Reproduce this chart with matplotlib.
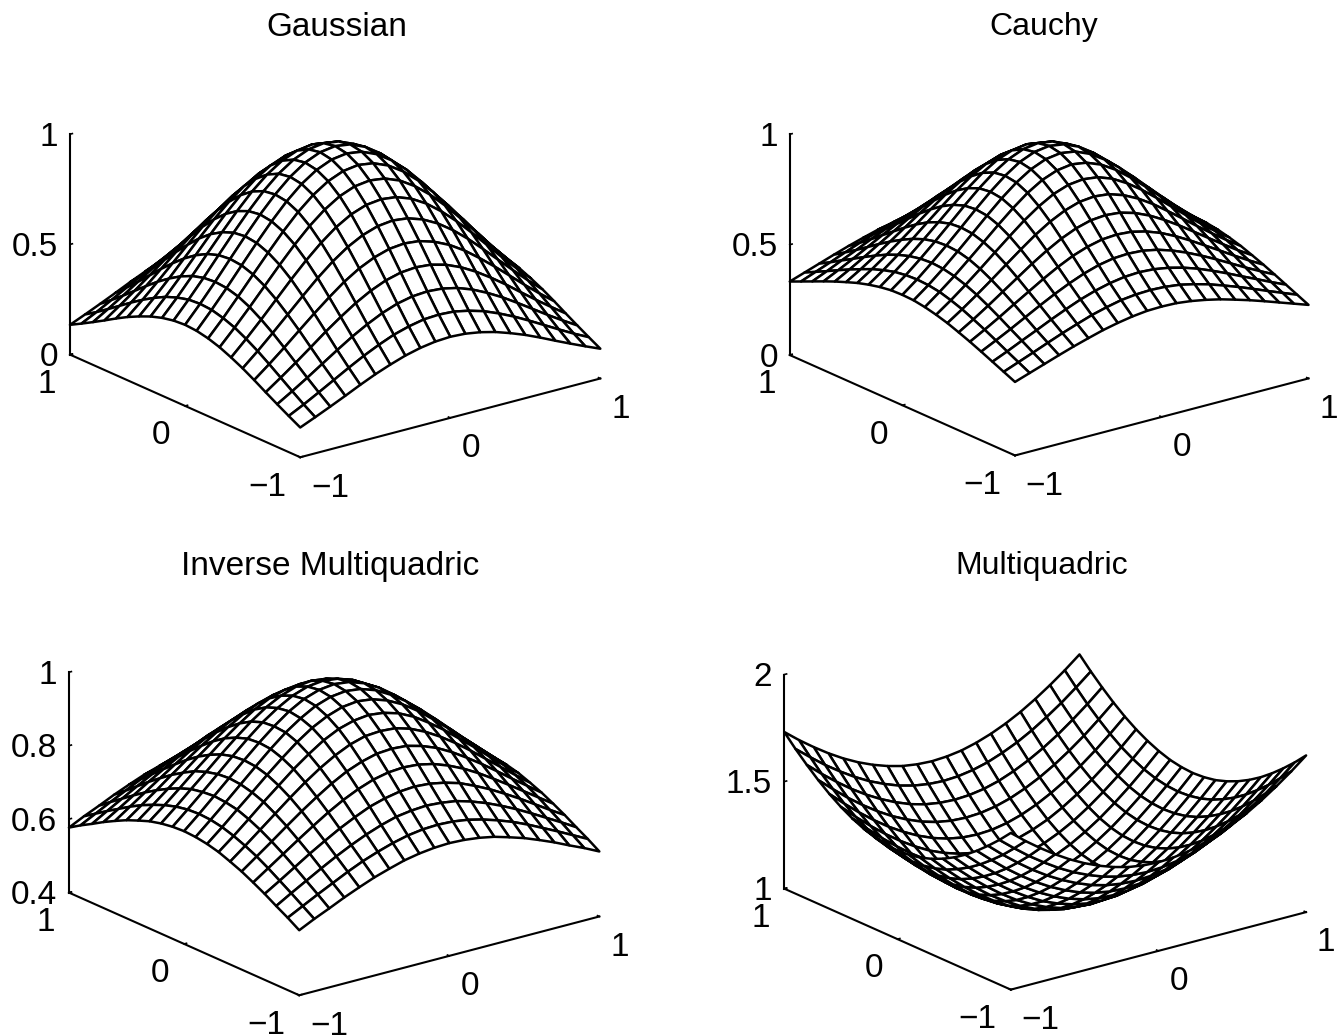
"""Four radial basis function surfaces as white meshes in MATLAB's look."""

import numpy as np
import matplotlib
matplotlib.use("Agg")
import matplotlib.pyplot as plt

plt.rcParams["font.family"] = ["Liberation Sans", "DejaVu Sans"]

# surface heights, one quadrant: grid steps 0..10 from
# the centre to the edge; the surfaces are symmetric in both directions
GAUSSIAN = [
    [1.000, .990, .961, .914, .852, .779, .698, .613, .527, .445, .368],
    [.990, .980, .951, .905, .844, .771, .691, .607, .522, .441, .364],
    [.961, .951, .923, .878, .819, .748, .670, .589, .507, .427, .353],
    [.914, .905, .878, .835, .779, .712, .638, .560, .482, .407, .336],
    [.852, .844, .819, .779, .726, .664, .595, .522, .449, .379, .313],
    [.779, .771, .748, .712, .664, .607, .543, .477, .411, .347, .287],
    [.698, .691, .670, .638, .595, .543, .487, .428, .368, .311, .257],
    [.613, .607, .589, .560, .522, .477, .428, .375, .323, .273, .225],
    [.527, .522, .507, .482, .449, .411, .368, .323, .278, .235, .194],
    [.445, .441, .427, .407, .379, .347, .311, .273, .235, .198, .164],
    [.368, .364, .353, .336, .313, .287, .257, .225, .194, .164, .135],
]
CAUCHY = [
    [1.000, .990, .962, .917, .862, .800, .735, .671, .610, .552, .500],
    [.990, .980, .952, .909, .855, .794, .730, .667, .606, .549, .498],
    [.962, .952, .926, .885, .833, .775, .714, .654, .595, .541, .490],
    [.917, .909, .885, .847, .800, .746, .690, .633, .578, .526, .478],
    [.862, .855, .833, .800, .758, .709, .658, .606, .556, .508, .463],
    [.800, .794, .775, .746, .709, .667, .621, .575, .529, .485, .444],
    [.735, .730, .714, .690, .658, .621, .581, .541, .500, .461, .424],
    [.671, .667, .654, .633, .606, .575, .541, .505, .469, .435, .402],
    [.610, .606, .595, .578, .556, .529, .500, .469, .439, .408, .379],
    [.552, .549, .541, .526, .508, .485, .461, .435, .408, .382, .356],
    [.500, .498, .490, .478, .463, .444, .424, .402, .379, .356, .333],
]
INV_MULTIQUADRIC = [
    [1.000, .995, .981, .958, .928, .894, .857, .819, .781, .743, .707],
    [.995, .990, .976, .953, .925, .891, .854, .816, .778, .741, .705],
    [.981, .976, .962, .941, .913, .880, .845, .808, .772, .735, .700],
    [.958, .953, .941, .921, .894, .864, .830, .796, .760, .725, .692],
    [.928, .925, .913, .894, .870, .842, .811, .778, .745, .712, .680],
    [.894, .891, .880, .864, .842, .816, .788, .758, .727, .697, .667],
    [.857, .854, .845, .830, .811, .788, .762, .735, .707, .679, .651],
    [.819, .816, .808, .796, .778, .758, .735, .711, .685, .659, .634],
    [.781, .778, .772, .760, .745, .727, .707, .685, .662, .639, .615],
    [.743, .741, .735, .725, .712, .697, .679, .659, .639, .618, .597],
    [.707, .705, .700, .692, .680, .667, .651, .634, .615, .597, .577],
]
MULTIQUADRIC = [
    [1.000, 1.005, 1.020, 1.044, 1.077, 1.118, 1.166, 1.221, 1.281, 1.345, 1.414],
    [1.005, 1.010, 1.025, 1.049, 1.082, 1.122, 1.170, 1.225, 1.285, 1.349, 1.418],
    [1.020, 1.025, 1.039, 1.063, 1.095, 1.136, 1.183, 1.237, 1.296, 1.360, 1.428],
    [1.044, 1.049, 1.063, 1.086, 1.118, 1.158, 1.204, 1.257, 1.315, 1.378, 1.446],
    [1.077, 1.082, 1.095, 1.118, 1.149, 1.187, 1.233, 1.285, 1.342, 1.404, 1.470],
    [1.118, 1.122, 1.136, 1.158, 1.187, 1.225, 1.269, 1.319, 1.375, 1.435, 1.500],
    [1.166, 1.170, 1.183, 1.204, 1.233, 1.269, 1.311, 1.360, 1.414, 1.473, 1.536],
    [1.221, 1.225, 1.237, 1.257, 1.285, 1.319, 1.360, 1.407, 1.459, 1.517, 1.578],
    [1.281, 1.285, 1.296, 1.315, 1.342, 1.375, 1.414, 1.459, 1.510, 1.565, 1.625],
    [1.345, 1.349, 1.360, 1.378, 1.404, 1.435, 1.473, 1.517, 1.565, 1.619, 1.676],
    [1.414, 1.418, 1.428, 1.446, 1.470, 1.500, 1.536, 1.578, 1.625, 1.676, 1.732],
]

TITLES = ["Gaussian", "Cauchy", "Inverse Multiquadric", "Multiquadric"]
TITLE_SIZES = [24, 23, 24, 23]
Z_LIMITS = [(0, 1), (0, 1), (0.4, 1), (1, 2)]
Z_TICKS = [[0, 0.5, 1], [0, 0.5, 1], [0.4, 0.6, 0.8, 1], [1, 1.5, 2]]
Z_LABELS = [["0", "0.5", "1"], ["0", "0.5", "1"],
            ["0.4", "0.6", "0.8", "1"], ["1", "1.5", "2"]]
XY_TICKS = [-1, 0, 1]
XY_LABELS = ["\u22121", "0", "1"]

W, H = 1344, 1036
# centre of each plot box, in pixels from the top left
CENTRES = [(326.5, 265), (1040.5, 265), (325.5, 803), (1036.5, 802)]
TITLE_POS = [(337, 28), (1044, 27), (330, 567), (1042, 566)]
ZOOMS = [0.886, 0.87, 0.886, 0.87]
Z_ASPECTS = [0.62, 0.635, 0.62, 0.612]
BOX = 640  # side of the square 3D axes, pixels


def full_grid(quadrant):
    idx = np.abs(np.arange(-10, 11))
    return np.asarray(quadrant, dtype=float)[np.ix_(idx, idx)]


def surface_panel(fig, k, quadrant):
    cx, cy = CENTRES[k]
    ax = fig.add_axes([(cx - BOX / 2) / W, 1 - (cy + BOX / 2) / H, BOX / W, BOX / H],
                      projection="3d", proj_type="ortho")
    ax.patch.set_alpha(0)
    ax.view_init(elev=20, azim=-127.5)
    ax.set_box_aspect((1, 1, Z_ASPECTS[k]), zoom=ZOOMS[k])

    x = np.linspace(-1, 1, 21)
    X, Y = np.meshgrid(x, x)
    ax.plot_surface(X, Y, full_grid(quadrant), rstride=1, cstride=1, color="white",
                    edgecolor="black", linewidth=1.8, shade=False, antialiased=True)

    ax.set_xlim(-1, 1)
    ax.set_ylim(-1, 1)
    ax.set_zlim(*Z_LIMITS[k])
    ax.set_xticks(XY_TICKS, XY_LABELS)
    ax.set_yticks(XY_TICKS, XY_LABELS)
    ax.set_zticks(Z_TICKS[k], Z_LABELS[k])
    ax.tick_params(labelsize=24)
    ax.zaxis.set_tick_params(pad=-2.5)
    for label in ax.zaxis.get_ticklabels():
        label.set_ha("right")
        label.set_va("center_baseline")
    for label in ax.xaxis.get_ticklabels():
        label.set_ha("left")
    for label in ax.yaxis.get_ticklabels():
        label.set_ha("right")
    ax.grid(False)
    for axis in (ax.xaxis, ax.yaxis, ax.zaxis):
        axis.set_pane_color((1, 1, 1, 0))
        axis.pane.set_edgecolor((1, 1, 1, 0))
        axis.line.set_linewidth(1.5)
        axis.line.set_color("black")
        axis._axinfo["tick"].update(inward_factor=0.0, outward_factor=0.1, linewidth={True: 1.2, False: 1.2})
    ax.set_facecolor("none")
    fig.text(TITLE_POS[k][0] / W, 1 - TITLE_POS[k][1] / H, TITLES[k],
             fontsize=TITLE_SIZES[k], ha="center", va="center")
    return ax


fig = plt.figure(figsize=(W / 100, H / 100), dpi=100, facecolor="white")
for k, quadrant in enumerate([GAUSSIAN, CAUCHY, INV_MULTIQUADRIC, MULTIQUADRIC]):
    surface_panel(fig, k, quadrant)
fig.savefig("out.png", dpi=100)
